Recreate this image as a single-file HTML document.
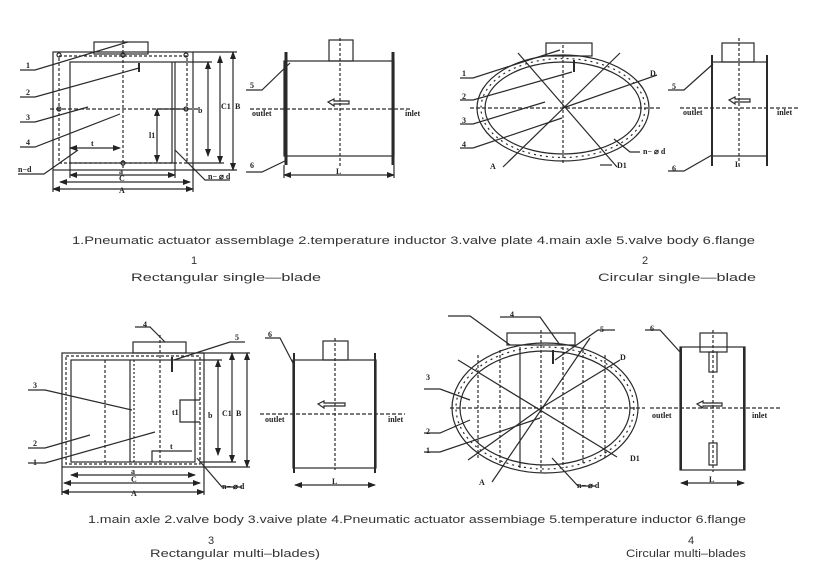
<!DOCTYPE html>
<html><head><meta charset="utf-8"><style>
html,body{margin:0;padding:0;background:#fff;}
svg{display:block;}
text{font-family:"Liberation Serif",serif;font-weight:bold;font-size:8px;fill:#222;}
.cap{font-family:"Liberation Sans",sans-serif;font-weight:normal;font-size:11px;fill:#333;}
</style></head><body>
<svg width="816" height="572" viewBox="0 0 816 572" xmlns="http://www.w3.org/2000/svg">
<defs>
<marker id="ar" markerWidth="8" markerHeight="6" refX="7" refY="3" orient="auto-start-reverse" markerUnits="userSpaceOnUse"><path d="M0,0 L8,3 L0,6 Z" fill="#222"/></marker>
</defs>
<g stroke="#2a2a2a" stroke-width="1.2" fill="none">
<!-- ===== Drawing 1 ===== -->
<rect x="53" y="52" width="140" height="118"/>
<rect x="59" y="56" width="128" height="107" stroke-dasharray="3,2"/>
<rect x="70" y="62" width="105" height="101"/>
<rect x="94" y="42" width="54" height="12"/>
<line x1="123" y1="40" x2="123" y2="170" stroke-dasharray="3,2"/>
<line x1="50" y1="109" x2="200" y2="109" stroke-dasharray="4,2"/>
<line x1="172" y1="62" x2="172" y2="163"/>
<circle cx="59" cy="55" r="2"/><circle cx="123" cy="55" r="2"/><circle cx="186" cy="55" r="2"/>
<circle cx="59" cy="109" r="2"/><circle cx="186" cy="109" r="2"/><circle cx="123" cy="163" r="2"/>
<line x1="139" y1="63" x2="139" y2="72" stroke-width="2"/>
<line x1="175" y1="62" x2="212" y2="62"/><line x1="193" y1="52" x2="237" y2="52"/>
<line x1="193" y1="170" x2="237" y2="170"/><line x1="187" y1="163" x2="224" y2="163"/>
<line x1="208" y1="62" x2="208" y2="156" marker-start="url(#ar)" marker-end="url(#ar)"/>
<line x1="220" y1="56" x2="220" y2="163" marker-start="url(#ar)" marker-end="url(#ar)"/>
<line x1="233" y1="52" x2="233" y2="170" marker-start="url(#ar)" marker-end="url(#ar)"/>
<line x1="157" y1="109" x2="157" y2="162" marker-start="url(#ar)" marker-end="url(#ar)"/>
<line x1="157" y1="109" x2="186" y2="109"/>
<line x1="70" y1="148" x2="120" y2="148" marker-start="url(#ar)" marker-end="url(#ar)"/>
<line x1="70" y1="175" x2="175" y2="175" marker-start="url(#ar)" marker-end="url(#ar)"/>
<line x1="60" y1="182" x2="190" y2="182" marker-start="url(#ar)" marker-end="url(#ar)"/>
<line x1="53" y1="189" x2="193" y2="189" marker-start="url(#ar)" marker-end="url(#ar)"/>
<line x1="70" y1="163" x2="70" y2="178"/><line x1="175" y1="163" x2="175" y2="178"/>
<line x1="53" y1="170" x2="53" y2="192"/><line x1="193" y1="170" x2="193" y2="192"/>
<polyline points="20,70 35,70 128,42"/>
<polyline points="20,97 35,97 139,68"/>
<polyline points="20,122 35,122 88,107"/>
<polyline points="20,147 35,147 120,114"/>
<polyline points="18,174 44,174 78,150"/>
<polyline points="230,180 205,180 175,150"/>
<rect x="284" y="61" width="110" height="95"/>
<line x1="286" y1="52" x2="286" y2="165" stroke-width="3"/>
<line x1="393" y1="52" x2="393" y2="165" stroke-width="3"/>
<rect x="329" y="40" width="24" height="21"/>
<line x1="340" y1="38" x2="340" y2="168" stroke-dasharray="3,2"/>
<line x1="250" y1="109" x2="410" y2="109" stroke-dasharray="4,2"/>
<path d="M328,102 L334,99 L334,101 L349,101 L349,104 L334,104 L334,106 Z"/>
<line x1="284" y1="175" x2="394" y2="175" marker-start="url(#ar)" marker-end="url(#ar)"/>
<line x1="284" y1="165" x2="284" y2="178"/><line x1="394" y1="165" x2="394" y2="178"/>
<polyline points="246,90 262,90 290,63"/>
<polyline points="246,172 262,172 287,160"/>
<!-- ===== Drawing 2 ===== -->
<ellipse cx="563" cy="108" rx="86" ry="53"/>
<ellipse cx="563" cy="108" rx="78" ry="46"/>
<ellipse cx="563" cy="108" rx="82" ry="49.5" stroke-dasharray="2,4"/>
<rect x="546" y="43" width="46" height="13"/>
<line x1="563" y1="45" x2="563" y2="165" stroke-dasharray="3,2"/>
<line x1="470" y1="108" x2="660" y2="108" stroke-dasharray="4,2"/>
<line x1="518" y1="53" x2="617" y2="167"/>
<line x1="620" y1="53" x2="503" y2="167"/>
<line x1="563" y1="108" x2="657" y2="75"/>
<line x1="574" y1="60" x2="574" y2="72" stroke-width="2"/>
<polyline points="460,78 473,78 560,50"/>
<polyline points="460,100 473,100 572,72"/>
<polyline points="460,124 473,124 545,102"/>
<polyline points="460,148 473,148 562,118"/>
<polyline points="640,152 630,152 614,139"/>
<polyline points="600,165 612,165"/>
<rect x="712" y="62" width="55" height="94"/>
<line x1="712" y1="55" x2="712" y2="166" stroke-width="2"/>
<line x1="767" y1="55" x2="767" y2="166" stroke-width="2"/>
<rect x="722" y="43" width="32" height="19"/>
<line x1="739" y1="38" x2="739" y2="168" stroke-dasharray="3,2"/>
<line x1="680" y1="108" x2="800" y2="108" stroke-dasharray="4,2"/>
<path d="M729,100 L735,97 L735,99 L750,99 L750,102 L735,102 L735,104 Z"/>
<polyline points="668,90 684,90 713,64"/>
<polyline points="668,171 684,171 712,155"/>
<!-- ===== Drawing 3 ===== -->
<rect x="62" y="353" width="142" height="114"/>
<rect x="66" y="356" width="134" height="108" stroke-dasharray="3,2"/>
<rect x="71" y="360" width="124" height="102"/>
<rect x="133" y="342" width="53" height="11"/>
<line x1="105" y1="360" x2="105" y2="462" stroke-dasharray="3,2"/>
<line x1="130" y1="360" x2="130" y2="462"/>
<line x1="134" y1="360" x2="134" y2="462" stroke-dasharray="2,2"/>
<line x1="160" y1="335" x2="160" y2="462" stroke-dasharray="3,2"/>
<line x1="172" y1="357" x2="172" y2="372" stroke-width="2"/>
<line x1="195" y1="360" x2="222" y2="360"/><line x1="200" y1="353" x2="250" y2="353"/>
<line x1="204" y1="467" x2="250" y2="467"/><line x1="200" y1="462" x2="236" y2="462"/>
<line x1="218" y1="360" x2="218" y2="455" marker-start="url(#ar)" marker-end="url(#ar)"/>
<line x1="232" y1="353" x2="232" y2="462" marker-start="url(#ar)" marker-end="url(#ar)"/>
<line x1="247" y1="353" x2="247" y2="467" marker-start="url(#ar)" marker-end="url(#ar)"/>
<polyline points="200,400 180,400 180,422 200,422"/>
<polyline points="152,462 152,451 192,451"/>
<line x1="71" y1="475" x2="195" y2="475" marker-start="url(#ar)" marker-end="url(#ar)"/>
<line x1="64" y1="483" x2="200" y2="483" marker-start="url(#ar)" marker-end="url(#ar)"/>
<line x1="62" y1="492" x2="204" y2="492" marker-start="url(#ar)" marker-end="url(#ar)"/>
<line x1="62" y1="467" x2="62" y2="495"/><line x1="204" y1="467" x2="204" y2="495"/>
<polyline points="135,327 150,327 165,342"/>
<polyline points="245,342 230,342 174,360"/>
<polyline points="28,390 45,390 132,410"/>
<polyline points="28,448 45,448 90,435"/>
<polyline points="28,463 45,463 155,432"/>
<polyline points="242,487 222,487 197,458"/>
<rect x="293" y="360" width="83" height="108"/>
<line x1="294" y1="353" x2="294" y2="473" stroke-width="2"/>
<line x1="375" y1="353" x2="375" y2="473" stroke-width="2"/>
<rect x="323" y="341" width="25" height="19"/>
<line x1="335" y1="338" x2="335" y2="470" stroke-dasharray="3,2"/>
<line x1="260" y1="414" x2="405" y2="414" stroke-dasharray="4,2"/>
<path d="M318,404 L324,401 L324,403 L345,403 L345,406 L324,406 L324,408 Z"/>
<line x1="295" y1="485" x2="375" y2="485" marker-start="url(#ar)" marker-end="url(#ar)"/>
<polyline points="265,338 280,338 294,365"/>
<!-- ===== Drawing 4 ===== -->
<ellipse cx="545" cy="408" rx="93" ry="65"/>
<ellipse cx="545" cy="408" rx="85" ry="57"/>
<ellipse cx="545" cy="408" rx="89" ry="61" stroke-dasharray="2,4"/>
<rect x="507" y="333" width="68" height="12"/>
<line x1="478" y1="355" x2="478" y2="460" stroke-dasharray="3,2"/>
<line x1="500" y1="350" x2="500" y2="465" stroke-dasharray="3,2"/>
<line x1="520" y1="347" x2="520" y2="468"/>
<line x1="541" y1="330" x2="541" y2="472" stroke-dasharray="3,2"/>
<line x1="563" y1="347" x2="563" y2="468" stroke-dasharray="3,2"/>
<line x1="583" y1="350" x2="583" y2="465" stroke-dasharray="3,2"/>
<line x1="605" y1="355" x2="605" y2="460" stroke-dasharray="3,2"/>
<line x1="450" y1="408" x2="645" y2="408" stroke-dasharray="4,2"/>
<line x1="458" y1="360" x2="617" y2="457"/>
<line x1="590" y1="338" x2="492" y2="482"/>
<line x1="541" y1="408" x2="620" y2="360"/>
<line x1="468" y1="460" x2="541" y2="408"/>
<line x1="553" y1="350" x2="553" y2="364" stroke-width="2"/>
<polyline points="448,316 470,316 510,345"/>
<polyline points="500,317 540,317 560,345"/>
<polyline points="615,330 598,330 555,360"/>
<polyline points="424,389 440,389 470,400"/>
<polyline points="424,433 440,433 470,420"/>
<polyline points="424,452 440,452 540,418"/>
<polyline points="596,486 578,486 552,458"/>
<rect x="680" y="347" width="65" height="123"/>
<line x1="681" y1="347" x2="681" y2="470" stroke-width="2"/>
<line x1="744" y1="347" x2="744" y2="470" stroke-width="2"/>
<rect x="700" y="333" width="27" height="19"/>
<rect x="709" y="352" width="8" height="20"/>
<rect x="709" y="443" width="8" height="22"/>
<line x1="713" y1="330" x2="713" y2="472" stroke-dasharray="3,2"/>
<line x1="650" y1="408" x2="780" y2="408" stroke-dasharray="4,2"/>
<path d="M697,404 L703,401 L703,403 L722,403 L722,406 L703,406 L703,408 Z"/>
<line x1="681" y1="483" x2="744" y2="483" marker-start="url(#ar)" marker-end="url(#ar)"/>
<polyline points="645,330 660,330 680,352"/>
</g>
<text x="26" y="68">1</text><text x="26" y="95">2</text><text x="26" y="120">3</text><text x="26" y="145">4</text>
<text x="18" y="172" font-size="6">n−d</text><text x="208" y="179" font-size="6">n− ⌀ d</text>
<text x="198" y="113">b</text><text x="221" y="109" font-size="9">C1</text><text x="235" y="109" font-size="9">B</text>
<text x="149" y="138" font-size="7">l1</text><text x="91" y="146" font-size="7">t</text>
<text x="119" y="174" font-size="7">a</text><text x="119" y="181" font-size="8">C</text><text x="119" y="193" font-size="8">A</text>
<text x="250" y="88">5</text><text x="250" y="168">6</text>
<text x="252" y="116" font-size="7">outlet</text><text x="405" y="116" font-size="7">inlet</text>
<text x="336" y="174" font-size="8">L</text>
<text x="462" y="76">1</text><text x="462" y="99">2</text><text x="462" y="123">3</text><text x="462" y="147">4</text>
<text x="650" y="76">D</text><text x="617" y="168">D1</text><text x="490" y="169">A</text>
<text x="643" y="154" font-size="6">n− ⌀ d</text>
<text x="672" y="89">5</text><text x="672" y="171">6</text>
<text x="683" y="115" font-size="7">outlet</text><text x="777" y="115" font-size="7">inlet</text>
<text x="735" y="167" font-size="8">L</text>
<text x="143" y="327">4</text><text x="235" y="340">5</text>
<text x="33" y="388">3</text><text x="33" y="446">2</text><text x="33" y="465">1</text>
<text x="208" y="418">b</text><text x="222" y="416" font-size="9">C1</text><text x="236" y="416" font-size="9">B</text>
<text x="172" y="415" font-size="7">t1</text><text x="170" y="449" font-size="7">t</text>
<text x="131" y="474" font-size="7">a</text><text x="131" y="482" font-size="8">C</text><text x="131" y="496" font-size="8">A</text>
<text x="222" y="489" font-size="6">n− ⌀ d</text>
<text x="268" y="337">6</text>
<text x="265" y="422" font-size="7">outlet</text><text x="388" y="422" font-size="7">inlet</text>
<text x="332" y="484" font-size="8">L</text>
<text x="510" y="317">4</text><text x="600" y="332">5</text><text x="620" y="360">D</text>
<text x="426" y="380">3</text><text x="426" y="434">2</text><text x="426" y="453">1</text>
<text x="630" y="461">D1</text><text x="479" y="485">A</text>
<text x="577" y="488" font-size="6">n− ⌀ d</text>
<text x="650" y="331">6</text>
<text x="652" y="418" font-size="7">outlet</text><text x="752" y="418" font-size="7">inlet</text>
<text x="709" y="482" font-size="8">L</text>
<text class="cap" x="72" y="244" textLength="683" lengthAdjust="spacingAndGlyphs">1.Pneumatic actuator assemblage 2.temperature inductor 3.valve plate 4.main axle 5.valve body 6.flange</text>
<text class="cap" x="191" y="264">1</text>
<text class="cap" x="131" y="281" textLength="190" lengthAdjust="spacingAndGlyphs">Rectangular single—blade</text>
<text class="cap" x="642" y="264">2</text>
<text class="cap" x="598" y="281" textLength="158" lengthAdjust="spacingAndGlyphs">Circular single—blade</text>
<text class="cap" x="88" y="523" textLength="658" lengthAdjust="spacingAndGlyphs">1.main axle  2.valve body 3.vaive plate 4.Pneumatic actuator assembiage 5.temperature inductor 6.flange</text>
<text class="cap" x="208" y="544">3</text>
<text class="cap" x="150" y="557" textLength="170" lengthAdjust="spacingAndGlyphs">Rectangular multi–blades)</text>
<text class="cap" x="688" y="544">4</text>
<text class="cap" x="626" y="557" textLength="120" lengthAdjust="spacingAndGlyphs">Circular multi–blades</text>
</svg>
</body></html>
